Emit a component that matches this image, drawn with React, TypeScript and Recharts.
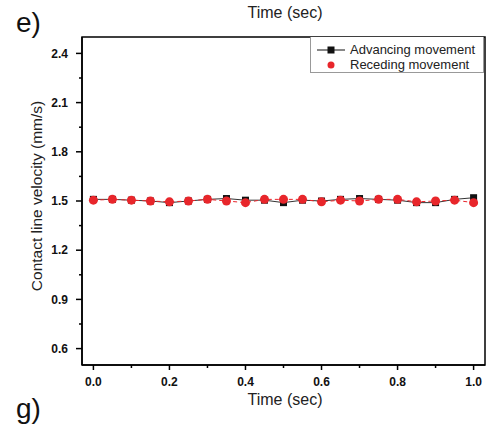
import React from "react";
import {
  ComposedChart,
  Line,
  XAxis,
  YAxis,
  Legend,
  ReferenceArea,
  Customized,
} from "recharts";

const times = [0, 0.05, 0.1, 0.15, 0.2, 0.25, 0.3, 0.35, 0.4, 0.45, 0.5, 0.55, 0.6, 0.65, 0.7, 0.75, 0.8, 0.85, 0.9, 0.95, 1.0];
const advancing = [1.51, 1.51, 1.505, 1.5, 1.49, 1.5, 1.51, 1.515, 1.505, 1.505, 1.49, 1.505, 1.5, 1.51, 1.515, 1.51, 1.505, 1.49, 1.49, 1.51, 1.52];
const receding = [1.505, 1.51, 1.505, 1.5, 1.495, 1.5, 1.51, 1.5, 1.49, 1.51, 1.51, 1.51, 1.495, 1.505, 1.5, 1.51, 1.51, 1.495, 1.5, 1.505, 1.49];

const xTicks = [0, 0.1, 0.2, 0.3, 0.4, 0.5, 0.6, 0.7, 0.8, 0.9, 1.0];
const xMajor = [0, 0.2, 0.4, 0.6, 0.8, 1.0];
const yTicks = [0.6, 0.75, 0.9, 1.05, 1.2, 1.35, 1.5, 1.65, 1.8, 1.95, 2.1, 2.25, 2.4];
const yMajor = [0.6, 0.9, 1.2, 1.5, 1.8, 2.1, 2.4];

const seriesNames = ["Advancing movement", "Receding movement"];
const xTitle = "Time (sec)";
const yTitle = "Contact line velocity (mm/s)";

const data = times.map((t, i) => ({ t, adv: advancing[i], rec: receding[i] }));

const FONT = "'Liberation Sans', Arial, sans-serif";
const RED = "#e8262b";

const isMajor = (v: number, arr: number[]) => arr.some((m) => Math.abs(m - v) < 1e-6);

const XTick = (props: any) => {
  const { x, y, payload } = props;
  const major = isMajor(payload.value, xMajor);
  return (
    <g>
      <line x1={x} x2={x} y1={y} y2={y + (major ? 5 : 3)} stroke="#000" strokeWidth={1.5} />
      {major && (
        <text x={x} y={y + 12} dy="0.71em" textAnchor="middle" fontFamily={FONT} fontWeight="bold" fontSize={12} fill="#111">
          {payload.value.toFixed(1)}
        </text>
      )}
    </g>
  );
};

const YTick = (props: any) => {
  const { x, y, payload } = props;
  const major = isMajor(payload.value, yMajor);
  return (
    <g>
      <line x1={x} x2={x - (major ? 6 : 3)} y1={y} y2={y} stroke="#000" strokeWidth={1.5} />
      {major && (
        <text x={x - 14} y={y} dy="0.355em" textAnchor="end" fontFamily={FONT} fontWeight="bold" fontSize={12} fill="#111">
          {payload.value.toFixed(1)}
        </text>
      )}
    </g>
  );
};

const SquareDot = (props: any) => {
  const { cx, cy } = props;
  if (cx == null || cy == null) return null;
  return <rect x={cx - 3.5} y={cy - 3.5} width={7} height={7} fill="#111" />;
};

const CircleDot = (props: any) => {
  const { cx, cy } = props;
  if (cx == null || cy == null) return null;
  return <circle cx={cx} cy={cy} r={4.5} fill={RED} />;
};

const LegendBox = () => (
  <div
    style={{
      width: 174,
      height: 36,
      border: "1px solid #999",
      borderTop: "none",
      background: "#fff",
      fontFamily: FONT,
      fontSize: 13,
      color: "#222",
      boxSizing: "border-box",
      position: "relative",
    }}
  >
    <svg width={40} height={36} style={{ position: "absolute", left: 0, top: 0 }}>
      <line x1={6} x2={34} y1={13} y2={13} stroke="#111" strokeWidth={1} />
      <rect x={16.5} y={9.5} width={7} height={7} fill="#111" />
      <circle cx={20} cy={28} r={3.5} fill={RED} />
    </svg>
    <div style={{ position: "absolute", left: 39, top: 5, lineHeight: "15px", whiteSpace: "nowrap" }}>{seriesNames[0]}</div>
    <div style={{ position: "absolute", left: 39, top: 20, lineHeight: "15px", whiteSpace: "nowrap" }}>{seriesNames[1]}</div>
  </div>
);

const Texts = () => (
  <g fontFamily={FONT} fill="#222">
    <text x={285} y={12} dy="0.355em" textAnchor="middle" fontSize={16}>{xTitle}</text>
    <text x={285} y={399} dy="0.355em" textAnchor="middle" fontSize={16}>{xTitle}</text>
    <text x={36} y={196} dy="0.355em" textAnchor="middle" fontSize={15.5} transform="rotate(-90 36 196)">{yTitle}</text>
    <text x={16} y={32} fontSize={28} fill="#111">e)</text>
    <text x={16} y={418} fontSize={28} fill="#111">g)</text>
  </g>
);

export default function App() {
  return (
    <div style={{ position: "absolute", left: 0, top: 0, background: "#fff" }}>
      <ComposedChart
        width={488}
        height={424}
        data={data}
        margin={{ top: 37, right: 3, bottom: 29, left: 32 }}
      >
        <XAxis
          dataKey="t"
          type="number"
          domain={[-0.03, 1.03]}
          ticks={xTicks}
          interval={0}
          height={30}
          tickSize={0}
          tickMargin={0}
          tickLine={false}
          tick={<XTick />}
          axisLine={{ stroke: "#000", strokeWidth: 1.5 }}
          allowDataOverflow
        />
        <YAxis
          type="number"
          domain={[0.5, 2.5]}
          ticks={yTicks}
          interval={0}
          width={50}
          tickSize={0}
          tickMargin={0}
          tickLine={false}
          tick={<YTick />}
          axisLine={{ stroke: "#000", strokeWidth: 1.5 }}
          allowDataOverflow
        />
        <ReferenceArea x1={-0.03} x2={1.03} y1={0.5} y2={2.5} fill="none" stroke="#000" strokeWidth={1.5} />
        <Legend
          layout="horizontal"
          verticalAlign="middle"
          align="center"
          content={<LegendBox />}
          wrapperStyle={{ position: "absolute", top: 37, left: 310, width: 174, height: 36 }}
        />
        <Line
          dataKey="adv"
          name={seriesNames[0]}
          stroke="#333"
          strokeWidth={1}
          dot={<SquareDot />}
          activeDot={false}
          isAnimationActive={false}
        />
        <Line
          dataKey="rec"
          name={seriesNames[1]}
          stroke={RED}
          strokeWidth={1}
          strokeDasharray="4 3"
          dot={<CircleDot />}
          activeDot={false}
          isAnimationActive={false}
        />
        <Customized component={<Texts />} />
      </ComposedChart>
    </div>
  );
}
